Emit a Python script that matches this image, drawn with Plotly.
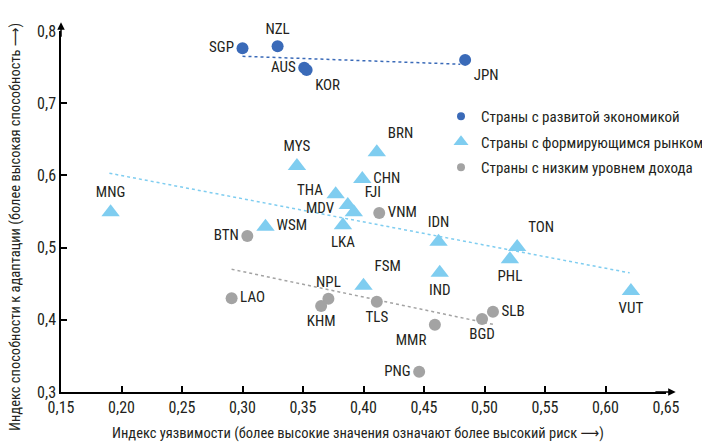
import plotly.graph_objects as go

FONT = "Roboto Condensed, Liberation Sans Narrow, DejaVu Sans Condensed, sans-serif"

# Developed economies
adv_names = ["SGP", "NZL", "AUS", "KOR", "JPN"]
adv_x = [0.300, 0.329, 0.351, 0.353, 0.484]
adv_y = [0.776, 0.779, 0.749, 0.746, 0.760]
adv_trend_x = [0.300, 0.480]
adv_trend_y = [0.765, 0.754]

# Emerging markets
em_names = ["MNG", "MYS", "THA", "MDV", "FJI", "LKA", "WSM", "BRN", "CHN",
            "IDN", "TON", "PHL", "IND", "FSM", "VUT"]
em_x = [0.191, 0.345, 0.377, 0.387, 0.392, 0.383, 0.319, 0.411, 0.399,
        0.462, 0.527, 0.521, 0.463, 0.400, 0.621]
em_y = [0.549, 0.613, 0.574, 0.559, 0.549, 0.531, 0.529, 0.632, 0.595,
        0.508, 0.501, 0.484, 0.465, 0.447, 0.440]
em_trend_x = [0.190, 0.620]
em_trend_y = [0.603, 0.465]

# Low-income countries
low_names = ["BTN", "VNM", "LAO", "NPL", "KHM", "TLS", "MMR", "BGD", "SLB", "PNG"]
low_x = [0.304, 0.413, 0.291, 0.371, 0.365, 0.411, 0.459, 0.498, 0.507, 0.446]
low_y = [0.516, 0.548, 0.430, 0.429, 0.419, 0.425, 0.393, 0.401, 0.411, 0.328]
low_trend_x = [0.291, 0.509]
low_trend_y = [0.470, 0.393]

x_ticks = [0.15, 0.20, 0.25, 0.30, 0.35, 0.40, 0.45, 0.50, 0.55, 0.60, 0.65]
y_ticks = [0.3, 0.4, 0.5, 0.6, 0.7, 0.8]

series_names = ["Страны с развитой экономикой",
                "Страны с формирующимся рынком",
                "Страны с низким уровнем дохода"]
x_title = "Индекс уязвимости (более высокие значения означают более высокий риск ⟶)"
y_title = "Индекс способности к адаптации (более высокая способность ⟶)"

# label placement (styling)
adv_pos = ["middle left", "top center", "middle left", "bottom right", "bottom right"]
em_pos = ["top center", "top center", "middle left", "middle left", "top right",
          "bottom center", "middle right", "top right", "middle right",
          "top center", "top right", "bottom center", "bottom center",
          "top right", "bottom center"]
low_pos = ["middle left", "middle right", "middle right", "top center",
           "bottom center", "bottom center", "bottom left", "bottom center",
           "middle right", "middle left"]
# labels that are nudged individually (drawn as annotations): name -> (xshift, yshift)
nudged = {"THA": (-11, 4), "MDV": (-11, -3)}

C_ADV = "#3a6ab8"
C_EM = "#7fcdf0"
C_LOW = "#a3a3a3"
TXT = "#231f20"

# page body has an 8px margin; figure is sized/placed to compensate
W, H = 702, 435
L, T, R, B = 53, 23, 44, 51
PW = W - L - R
PH = H - T - B

fig = go.Figure()

for tx, ty, c in [(adv_trend_x, adv_trend_y, C_ADV),
                  (em_trend_x, em_trend_y, C_EM),
                  (low_trend_x, low_trend_y, C_LOW)]:
    fig.add_trace(go.Scatter(x=tx, y=ty, mode="lines", showlegend=False,
                             line=dict(color=c, width=1.5, dash="dot"),
                             hoverinfo="skip"))

for xs, ys, names, pos, nm, c, sym, sz, lsz in [
        (adv_x, adv_y, adv_names, adv_pos, series_names[0], C_ADV, "circle", 12, 8),
        (em_x, em_y, em_names, em_pos, series_names[1], C_EM, "triangle-up", 16, 13),
        (low_x, low_y, low_names, low_pos, series_names[2], C_LOW, "circle", 12, 8)]:
    shown = ["" if n in nudged else n for n in names]
    fig.add_trace(go.Scatter(
        x=xs, y=ys, text=shown, mode="markers+text", textposition=pos,
        name=nm, showlegend=False, cliponaxis=False,
        marker=dict(color=c, size=sz, symbol=sym),
        textfont=dict(family=FONT, size=15, color=TXT)))
    # legend entry with smaller symbol
    fig.add_trace(go.Scatter(
        x=[None], y=[None], mode="markers", name=nm, legendgroup=nm,
        marker=dict(color=c, size=lsz, symbol=sym)))
    for n, xv, yv in zip(names, xs, ys):
        if n in nudged:
            dx, dy = nudged[n]
            fig.add_annotation(x=xv, y=yv, xref="x", yref="y", text=n,
                               showarrow=False, xanchor="right", yanchor="middle",
                               xshift=dx, yshift=dy,
                               font=dict(family=FONT, size=15, color=TXT))

# axis arrows
fig.add_annotation(x=0.15, y=0.812, ax=0.15, ay=0.79, xref="x", yref="y",
                   axref="x", ayref="y", showarrow=True, arrowhead=2,
                   arrowsize=1, arrowwidth=1.5, arrowcolor="black", text="")
fig.add_annotation(x=0.658, y=0.3, ax=0.64, ay=0.3, xref="x", yref="y",
                   axref="x", ayref="y", showarrow=True, arrowhead=2,
                   arrowsize=1, arrowwidth=1.5, arrowcolor="black", text="")

# axis titles (offsets in px from the plot area)
fig.add_annotation(x=297 / PW, y=-41 / PH, xref="paper", yref="paper",
                   xanchor="center", yanchor="middle", showarrow=False,
                   text=x_title, font=dict(family=FONT, size=14.5, color=TXT))
fig.add_annotation(x=-45 / PW, y=165 / PH, xref="paper", yref="paper",
                   xanchor="center", yanchor="middle", showarrow=False, textangle=-90,
                   text=y_title, font=dict(family=FONT, size=14.5, color=TXT))

fig.update_layout(
    width=W, height=H,
    margin=dict(l=L, r=R, t=T, b=B, autoexpand=False),
    paper_bgcolor="white", plot_bgcolor="white",
    separators=", ",
    font=dict(family=FONT, size=14, color=TXT),
    showlegend=True,
    legend=dict(x=380 / PW, y=292 / PH, xanchor="left", yanchor="top",
                font=dict(family=FONT, size=15, color=TXT),
                tracegroupgap=3,
                bgcolor="rgba(0,0,0,0)"),
    xaxis=dict(range=[0.15, 0.65], tickvals=x_ticks, tickformat=".2f",
               showgrid=False, zeroline=False, showline=True,
               linecolor="black", linewidth=1.5, ticks="inside",
               ticklen=6, tickwidth=1.5, tickcolor="black",
               tickfont=dict(family=FONT, size=16, color=TXT), automargin=False),
    yaxis=dict(range=[0.3, 0.8], tickvals=y_ticks, tickformat=".1f",
               showgrid=False, zeroline=False, showline=True,
               linecolor="black", linewidth=1.5, ticks="inside",
               ticklen=6, tickwidth=1.5, tickcolor="black",
               tickfont=dict(family=FONT, size=16, color=TXT), automargin=False),
)

fig.write_html("out.html")
